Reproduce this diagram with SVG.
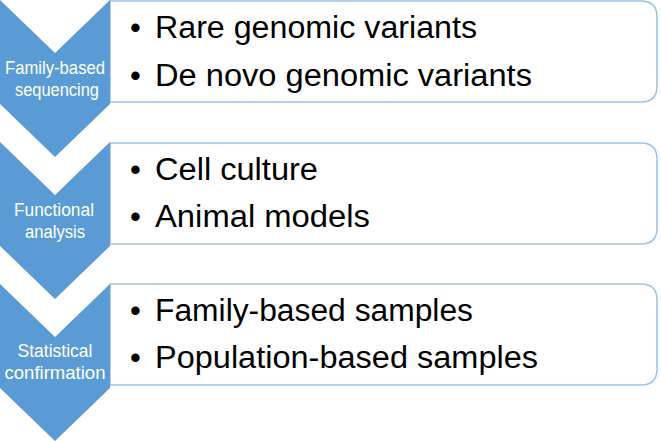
<svg xmlns="http://www.w3.org/2000/svg" width="661" height="441" viewBox="0 0 661 441">
<style>
.chev{fill:#5b9bd5;}
.box{fill:#ffffff;stroke:#9dc3e6;stroke-width:1.5;}
.lab{font-family:"Liberation Sans",Arial,sans-serif;font-size:18px;fill:#ffffff;text-anchor:middle;}
.item{font-family:"Liberation Sans",Arial,sans-serif;font-size:31px;fill:#000000;}
.bul{font-family:"Liberation Sans",Arial,sans-serif;font-size:31px;fill:#000000;}
</style>
<rect width="661" height="441" fill="#ffffff"/>
<g id="step1">
<path class="box" d="M110,1 H641 Q657,1 657,17 V86 Q657,102 641,102 H110 Z"/>
<polygon class="chev" points="0,0 55,53 110,0 110,104 55,157 0,104"/>
<text class="lab" x="55" y="74" textLength="100" lengthAdjust="spacingAndGlyphs">Family-based</text>
<text class="lab" x="57" y="96" textLength="84" lengthAdjust="spacingAndGlyphs">sequencing</text>
<text class="bul" x="130" y="38">•</text>
<text class="item" x="155" y="38" textLength="322" lengthAdjust="spacingAndGlyphs">Rare genomic variants</text>
<text class="bul" x="130" y="86">•</text>
<text class="item" x="155" y="86" textLength="377" lengthAdjust="spacingAndGlyphs">De novo genomic variants</text>
</g>
<g id="step2">
<path class="box" d="M110,143 H641 Q657,143 657,159 V228 Q657,244 641,244 H110 Z"/>
<polygon class="chev" points="0,142 55,195 110,142 110,246 55,299 0,246"/>
<text class="lab" x="54" y="216" textLength="80" lengthAdjust="spacingAndGlyphs">Functional</text>
<text class="lab" x="55" y="238" textLength="60" lengthAdjust="spacingAndGlyphs">analysis</text>
<text class="bul" x="130" y="180">•</text>
<text class="item" x="155" y="180" textLength="163" lengthAdjust="spacingAndGlyphs">Cell culture</text>
<text class="bul" x="130" y="227">•</text>
<text class="item" x="155" y="227" textLength="215" lengthAdjust="spacingAndGlyphs">Animal models</text>
</g>
<g id="step3">
<path class="box" d="M110,284 H641 Q657,284 657,300 V369 Q657,385 641,385 H110 Z"/>
<polygon class="chev" points="0,284 55,337 110,284 110,388 55,441 0,388"/>
<text class="lab" x="55" y="357" textLength="75" lengthAdjust="spacingAndGlyphs">Statistical</text>
<text class="lab" x="55" y="379" textLength="101" lengthAdjust="spacingAndGlyphs">confirmation</text>
<text class="bul" x="130" y="321">•</text>
<text class="item" x="155" y="321" textLength="318" lengthAdjust="spacingAndGlyphs">Family-based samples</text>
<text class="bul" x="130" y="368">•</text>
<text class="item" x="155" y="368" textLength="383" lengthAdjust="spacingAndGlyphs">Population-based samples</text>
</g>
<g id="connectors"></g>
</svg>
